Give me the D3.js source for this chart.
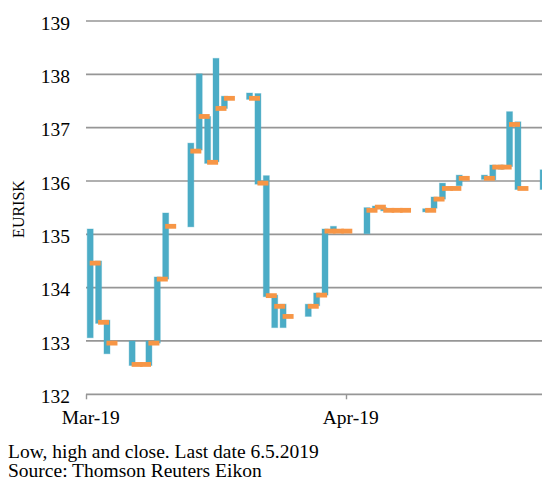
<!DOCTYPE html>
<html>
<head>
<meta charset="utf-8">
<script src="https://cdn.jsdelivr.net/npm/d3@7"></script>
<style>
  html, body { margin: 0; padding: 0; background: #fff; }
  svg { display: block; }
</style>
</head>
<body>
<svg id="chart" width="542" height="482"></svg>
<script>
// ---- data ----
const dates = [
  "2019-03-01","2019-03-02","2019-03-03","2019-03-06","2019-03-07","2019-03-08",
  "2019-03-09","2019-03-10","2019-03-13","2019-03-14","2019-03-15","2019-03-16",
  "2019-03-17","2019-03-20","2019-03-21","2019-03-22","2019-03-23","2019-03-24",
  "2019-03-27","2019-03-28","2019-03-29","2019-03-30","2019-03-31","2019-04-03",
  "2019-04-04","2019-04-05","2019-04-06","2019-04-07","2019-04-10","2019-04-11",
  "2019-04-12","2019-04-13","2019-04-14","2019-04-17","2019-04-18","2019-04-19",
  "2019-04-20","2019-04-21","2019-04-24"
];
const highs = [
  135.10,134.50,133.39,133.00,132.58,133.00,
  134.20,135.40,136.71,138.01,137.21,138.30,
  137.59,137.65,137.64,136.10,133.86,133.69,
  133.69,133.90,135.10,135.15,135.08,135.50,
  135.53,135.50,135.47,135.47,135.48,135.70,
  135.96,135.89,136.11,136.11,136.30,136.30,
  137.30,137.11,136.21
];
const lows = [
  133.06,133.33,132.76,132.54,132.54,132.54,
  132.96,134.16,135.14,136.58,136.33,136.36,
  137.36,137.53,135.94,133.83,133.25,133.25,
  133.46,133.66,133.86,135.04,135.04,135.01,
  135.48,135.44,135.43,135.43,135.42,135.49,
  135.66,135.84,135.91,136.03,136.02,136.22,
  136.27,135.84,135.84
];
const closes = [
  134.46,133.35,132.96,132.56,132.56,132.96,
  134.16,135.15,136.56,137.21,136.35,137.36,
  137.55,137.55,135.96,133.85,133.65,133.46,
  133.65,133.86,135.06,135.06,135.06,135.45,
  135.51,135.45,135.45,135.45,135.45,135.66,
  135.86,135.86,136.05,136.05,136.26,136.26,
  137.06,135.86,136.05
];
const yTicks = [132,133,134,135,136,137,138,139];
const monthTicks = ["2019-03-01","2019-04-01"];
const yTitle = "EURISK";
const notes = ["Low, high and close. Last date 6.5.2019", "Source: Thomson Reuters Eikon"];

// ---- drawing ----
const FONT = '"Liberation Serif", "Times New Roman", serif';
const svg = d3.select("#chart");
const W = 542, H = 482;
const parse = d3.utcParse("%Y-%m-%d");
const DAY = 864e5;

const x = d3.scaleUtc()
  .domain([parse("2019-03-01"), parse("2019-04-01")])
  .range([86, 346]);
const dayW = x(new Date(parse("2019-03-01").getTime() + DAY)) - x(parse("2019-03-01"));
const y = d3.scaleLinear().domain([132, 139]).range([394.3, 21]);

const data = dates.map((d, i) => ({
  date: parse(d), high: highs[i], low: lows[i], close: closes[i]
}));
const xc = d => x(d.date) + dayW / 2;

// gridlines
svg.append("g").selectAll("line").data(yTicks).join("line")
  .attr("x1", 86).attr("x2", W)
  .attr("y1", d => y(d)).attr("y2", d => y(d))
  .attr("stroke", "#969696").attr("stroke-width", 1.7);

// y axis labels
const yAxis = d3.axisLeft(y).tickValues(yTicks).tickSize(0).tickPadding(0).tickFormat(d3.format("d"));
const gy = svg.append("g").attr("transform", "translate(70,0)").call(yAxis);
gy.select(".domain").remove();
gy.attr("font-family", null).attr("font-size", null);
gy.selectAll("text")
  .style("font-family", FONT).style("font-size", "19.5px")
  .attr("fill", "#000").attr("dy", "0.36em").attr("y", 1.3);

// x axis
const xAxis = d3.axisBottom(x).tickValues(monthTicks.map(parse))
  .tickSizeInner(5).tickSizeOuter(0).tickPadding(0).tickFormat(d3.utcFormat("%b-%y"));
const gx = svg.append("g").attr("transform", "translate(0," + y(132) + ")").call(xAxis);
gx.select(".domain").remove();
gx.attr("font-family", null).attr("font-size", null);
gx.selectAll(".tick line").attr("stroke", "#969696").attr("stroke-width", 1.4);
gx.selectAll("text")
  .style("font-family", FONT).style("font-size", "19.5px")
  .attr("fill", "#000").attr("x", dayW / 2).attr("dy", 0).attr("y", 30);

// high-low bars
svg.append("g").selectAll("rect").data(data).join("rect")
  .attr("x", d => xc(d) - 3)
  .attr("width", 6)
  .attr("y", d => y(d.high))
  .attr("height", d => Math.max(1, y(d.low) - y(d.high)))
  .attr("fill", "#4BACC6")
  .attr("stroke", "rgba(75,172,198,0.35)").attr("stroke-width", 1);

// close marks
svg.append("g").selectAll("rect").data(data).join("rect")
  .attr("x", d => xc(d) - 0.5)
  .attr("width", 11)
  .attr("y", d => y(d.close) - 2.4)
  .attr("height", 4.8)
  .attr("fill", "#F79646");

// y title
svg.append("text")
  .attr("transform", "translate(24,209) rotate(-90)")
  .attr("text-anchor", "middle")
  .style("font-family", FONT).style("font-size", "16px")
  .attr("fill", "#000")
  .text(yTitle);

// notes
svg.append("g").selectAll("text").data(notes).join("text")
  .attr("x", 8).attr("y", (d, i) => 457.5 + i * 19.5)
  .style("font-family", FONT).style("font-size", "19.5px")
  .attr("fill", "#000")
  .text(d => d);
</script>
</body>
</html>
